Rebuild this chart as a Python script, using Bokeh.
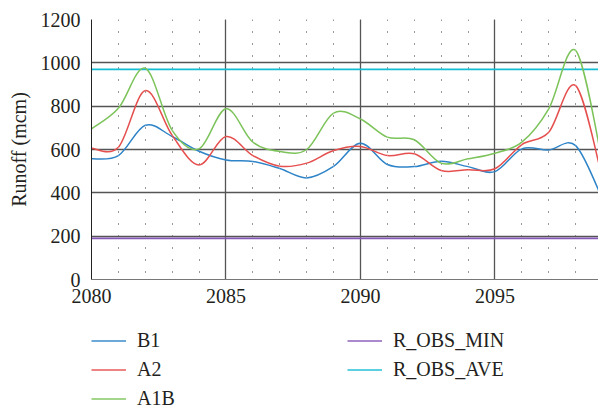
import numpy as np
from bokeh.plotting import figure
from bokeh.layouts import column
from bokeh.models import Range1d, SingleIntervalTicker, Legend, LegendItem
from bokeh.embed import file_html
from bokeh.resources import INLINE

years = [2080, 2081, 2082, 2083, 2084, 2085, 2086, 2087, 2088, 2089,
         2090, 2091, 2092, 2093, 2094, 2095, 2096, 2097, 2098, 2099]
b1 = [557, 572, 712, 660, 592, 552, 545, 512, 469, 522,
      629, 531, 521, 546, 521, 498, 603, 598, 618, 370]
a2 = [606, 610, 872, 665, 529, 660, 572, 523, 537, 595,
      614, 572, 580, 503, 507, 511, 623, 680, 895, 465]
a1b = [695, 790, 975, 688, 603, 788, 634, 591, 600, 768,
       741, 657, 645, 537, 557, 583, 634, 788, 1057, 540]
r_obs_min = [190, 190, 190, 190, 190, 190, 190, 190, 190, 190,
             190, 190, 190, 190, 190, 190, 190, 190, 190, 190]
r_obs_ave = [970, 970, 970, 970, 970, 970, 970, 970, 970, 970,
             970, 970, 970, 970, 970, 970, 970, 970, 970, 970]

names = ["B1", "A2", "A1B", "R_OBS_MIN", "R_OBS_AVE"]
colors = ["#2f84c8", "#e5504f", "#7cc35a", "#8658b8", "#14bcd3"]

FONT = "Liberation Serif"
TXT = "#231f20"

TOP_H = 320

p = figure(width=598, height=TOP_H, output_backend="svg", toolbar_location=None,
           x_range=Range1d(2080, 2098.85), y_range=Range1d(0, 1200),
           min_border_left=91, min_border_right=0, min_border_top=19,
           min_border_bottom=TOP_H - 279, title=None)
p.outline_line_color = None
p.background_fill_color = "white"


def smooth_segments(xs, ys):
    x = np.asarray(xs, float)
    y = np.asarray(ys, float)
    xp = np.concatenate([[x[0]], x, [x[-1]]])
    yp = np.concatenate([[y[0]], y, [y[-1]]])
    n = len(x)
    cx0 = x[:-1] + (xp[2:n + 1] - xp[0:n - 1]) / 6.0
    cy0 = y[:-1] + (yp[2:n + 1] - yp[0:n - 1]) / 6.0
    cx1 = x[1:] - (xp[3:n + 2] - xp[1:n]) / 6.0
    cy1 = y[1:] - (yp[3:n + 2] - yp[1:n]) / 6.0
    return dict(x0=x[:-1], y0=y[:-1], x1=x[1:], y1=y[1:],
                cx0=cx0, cy0=cy0, cx1=cx1, cy1=cy1)


# axes / grid
xt = SingleIntervalTicker(interval=5, num_minor_ticks=5)
yt = SingleIntervalTicker(interval=200, num_minor_ticks=0)
p.xaxis.ticker = xt
p.yaxis.ticker = yt
p.xgrid.ticker = xt
p.ygrid.ticker = yt

for ax in (p.xaxis[0], p.yaxis[0]):
    ax.major_tick_line_color = None
    ax.minor_tick_line_color = None
    ax.major_tick_out = 0
    ax.major_tick_in = 0
    ax.minor_tick_out = 0
    ax.minor_tick_in = 0
    ax.major_label_text_font = FONT
    ax.major_label_text_font_size = "20px"
    ax.major_label_text_color = TXT
    ax.axis_label_text_font = FONT
    ax.axis_label_text_font_size = "20px"
    ax.axis_label_text_font_style = "normal"
    ax.axis_label_text_color = TXT

p.yaxis.axis_line_color = "#222222"
p.yaxis.major_label_standoff = 11
p.yaxis.axis_label = "Runoff (mcm)"
p.yaxis.axis_label_standoff = 8
p.xaxis.axis_line_color = "#777777"
p.xaxis.major_label_standoff = 9

p.xgrid.grid_line_color = "#555555"
p.xgrid.grid_line_width = 1.3
p.ygrid.grid_line_color = "#555555"
p.ygrid.grid_line_width = 1.3
p.xgrid.minor_grid_line_color = "#333333"
p.xgrid.minor_grid_line_width = 1
p.xgrid.minor_grid_line_dash = "1 11"
p.xgrid.minor_grid_line_dash_offset = 5

# horizontal observed lines
p.line(years, r_obs_min, line_color=colors[3], line_width=1.6)
p.line(years, r_obs_ave, line_color=colors[4], line_width=1.6)

# smoothed scenario curves
for series, col in zip([b1, a2, a1b], colors[:3]):
    seg = smooth_segments(years, series)
    p.bezier(x0=seg["x0"], y0=seg["y0"], x1=seg["x1"], y1=seg["y1"],
             cx0=seg["cx0"], cy0=seg["cy0"], cx1=seg["cx1"], cy1=seg["cy1"],
             line_color=col, line_width=1.5)

# legend panel below the chart (its frame is aligned with the chart frame, x=91)
LEG_H = 409 - TOP_H
q = figure(width=598, height=LEG_H, output_backend="svg", toolbar_location=None,
           x_range=Range1d(0, 1), y_range=Range1d(0, 1),
           x_axis_type=None, y_axis_type=None, title=None,
           min_border_left=0, min_border_right=0, min_border_top=0,
           min_border_bottom=0)
q.outline_line_color = None
q.grid.visible = False
# swatch-only renderers, kept outside the visible range of this panel
refs = [q.line([5, 6], [5, 6], line_color=c, line_width=2.2, line_alpha=0.7)
        for c in colors]
items = [LegendItem(label=n, renderers=[r]) for n, r in zip(names, refs)]
# first row centre at y=340.7 in the page; rows 29 px apart
leg_top_local = 340.7 - 14.5 - TOP_H
legend = Legend(items=items, location=(0, LEG_H - leg_top_local - 87),
                orientation="vertical", nrows=3,
                padding=0, margin=0, spacing=0, border_line_color=None,
                background_fill_alpha=0, glyph_width=35, glyph_height=29,
                label_height=29, label_width=210, label_standoff=11,
                label_text_font=FONT, label_text_font_size="20px",
                label_text_color=TXT)
q.add_layout(legend, "center")

open("out.html", "w").write(file_html(column(p, q, spacing=0), INLINE))
